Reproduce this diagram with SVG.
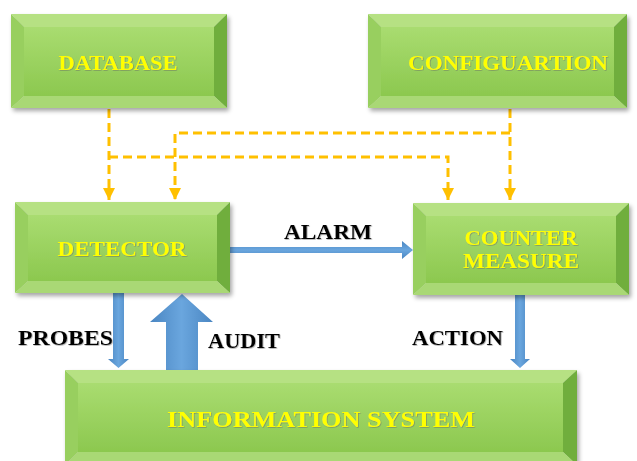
<svg xmlns="http://www.w3.org/2000/svg" width="637" height="461" viewBox="0 0 637 461">
  <defs>
    <linearGradient id="face" x1="0" y1="0" x2="0" y2="1">
      <stop offset="0" stop-color="#a9dc70"/>
      <stop offset="1" stop-color="#8cc84f"/>
    </linearGradient>
    <linearGradient id="blueV" x1="0" y1="0" x2="1" y2="0">
      <stop offset="0" stop-color="#4a86c2"/>
      <stop offset="0.5" stop-color="#6aa6de"/>
      <stop offset="1" stop-color="#4a86c2"/>
    </linearGradient>
    <linearGradient id="blueH" x1="0" y1="0" x2="0" y2="1">
      <stop offset="0" stop-color="#4a86c2"/>
      <stop offset="0.5" stop-color="#6aa6de"/>
      <stop offset="1" stop-color="#4a86c2"/>
    </linearGradient>
    <filter id="shadow" x="-10%" y="-10%" width="125%" height="130%">
      <feDropShadow dx="2" dy="3" stdDeviation="2" flood-color="#000" flood-opacity="0.35"/>
    </filter>
    <filter id="tshadow" x="-5%" y="-20%" width="110%" height="150%">
      <feDropShadow dx="0.7" dy="0.7" stdDeviation="0.4" flood-color="#666" flood-opacity="0.6"/>
    </filter>
    <marker id="tri" viewBox="0 0 10 10" refX="10" refY="5" markerWidth="4" markerHeight="4" orient="auto" markerUnits="strokeWidth">
      <path d="M0,0 L10,5 L0,10 Z" fill="#ffc000"/>
    </marker>
  </defs>
  <style>
    .bt { fill: #b6e183; }
    .bl { fill: #98cf5e; }
    .br { fill: #6fae3e; }
    .bb { fill: #a9d874; }
    .face { fill: url(#face); }
    .box { filter: url(#shadow); }
    .title { font-family: "Liberation Serif", "Times New Roman", serif; font-weight: bold; fill: #ffff00; text-anchor: middle; filter: url(#tshadow); }
    .lbl { font-family: "Liberation Serif", "Times New Roman", serif; font-weight: bold; fill: #000; font-size: 20px; filter: url(#tshadow); }
    .dash { fill: none; stroke: #ffc000; stroke-width: 3; stroke-dasharray: 9 5; marker-end: url(#tri); }
  </style>

  <!-- dashed control links -->
  <g id="connectors">
    <polyline class="dash" points="109,109 109,200"/>
    <polyline class="dash" points="109,157 448,157 448,200"/>
    <polyline class="dash" points="510,109 510,200"/>
    <polyline class="dash" points="510,133 175,133 175,200"/>

    <!-- ALARM -->
    <polygon points="230,247 402,247 402,241 413,250 402,259 402,253 230,253" fill="url(#blueH)"/>
    <!-- PROBES -->
    <polygon points="113,293 124,293 124,359 129,359 118.5,368 108,359 113,359" fill="url(#blueV)"/>
    <!-- ACTION -->
    <polygon points="515,295 525,295 525,359 530,359 520,368 510,359 515,359" fill="url(#blueV)"/>
    <!-- AUDIT -->
    <polygon points="166,380 166,322 150,322 182,294 213,322 198,322 198,380" fill="url(#blueV)"/>

    <text class="lbl" x="284" y="239" textLength="88" lengthAdjust="spacingAndGlyphs">ALARM</text>
    <text class="lbl" x="18" y="345" textLength="95" lengthAdjust="spacingAndGlyphs">PROBES</text>
    <text class="lbl" x="208" y="348" textLength="72" lengthAdjust="spacingAndGlyphs">AUDIT</text>
    <text class="lbl" x="412" y="345" textLength="91" lengthAdjust="spacingAndGlyphs">ACTION</text>
  </g>

  <g id="database" class="box">
    <polygon class="bt" points="11,14 227,14 214,27 24,27"/>
    <polygon class="bl" points="11,14 24,27 24,96 11,108"/>
    <polygon class="br" points="227,14 227,108 214,96 214,27"/>
    <polygon class="bb" points="11,108 24,96 214,96 227,108"/>
    <rect class="face" x="24" y="27" width="190" height="69"/>
    <text class="title" x="118" y="70" font-size="21" textLength="119" lengthAdjust="spacingAndGlyphs">DATABASE</text>
  </g>

  <g id="configuration" class="box">
    <polygon class="bt" points="368,14 627,14 614,27 381,27"/>
    <polygon class="bl" points="368,14 381,27 381,96 368,108"/>
    <polygon class="br" points="627,14 627,108 614,96 614,27"/>
    <polygon class="bb" points="368,108 381,96 614,96 627,108"/>
    <rect class="face" x="381" y="27" width="233" height="69"/>
    <text class="title" x="508" y="70" font-size="21" textLength="200" lengthAdjust="spacingAndGlyphs">CONFIGUARTION</text>
  </g>

  <g id="detector" class="box">
    <polygon class="bt" points="15,202 230,202 217,215 28,215"/>
    <polygon class="bl" points="15,202 28,215 28,281 15,293"/>
    <polygon class="br" points="230,202 230,293 217,281 217,215"/>
    <polygon class="bb" points="15,293 28,281 217,281 230,293"/>
    <rect class="face" x="28" y="215" width="189" height="66"/>
    <text class="title" x="122" y="256" font-size="21" textLength="129" lengthAdjust="spacingAndGlyphs">DETECTOR</text>
  </g>

  <g id="counter-measure" class="box">
    <polygon class="bt" points="413,203 629,203 616,216 426,216"/>
    <polygon class="bl" points="413,203 426,216 426,283 413,295"/>
    <polygon class="br" points="629,203 629,295 616,283 616,216"/>
    <polygon class="bb" points="413,295 426,283 616,283 629,295"/>
    <rect class="face" x="426" y="216" width="190" height="67"/>
    <text class="title" x="521" y="245" font-size="21" textLength="113" lengthAdjust="spacingAndGlyphs">COUNTER</text>
    <text class="title" x="521" y="268" font-size="21" textLength="116" lengthAdjust="spacingAndGlyphs">MEASURE</text>
  </g>

  <g id="information-system" class="box">
    <polygon class="bt" points="65,370 577,370 563,383 78,383"/>
    <polygon class="bl" points="65,370 78,383 78,452 65,465"/>
    <polygon class="br" points="577,370 577,465 563,452 563,383"/>
    <polygon class="bb" points="65,465 78,452 563,452 577,465"/>
    <rect class="face" x="78" y="383" width="485" height="69"/>
    <text class="title" x="321" y="427" font-size="24" textLength="308" lengthAdjust="spacingAndGlyphs">INFORMATION SYSTEM</text>
  </g>
</svg>
